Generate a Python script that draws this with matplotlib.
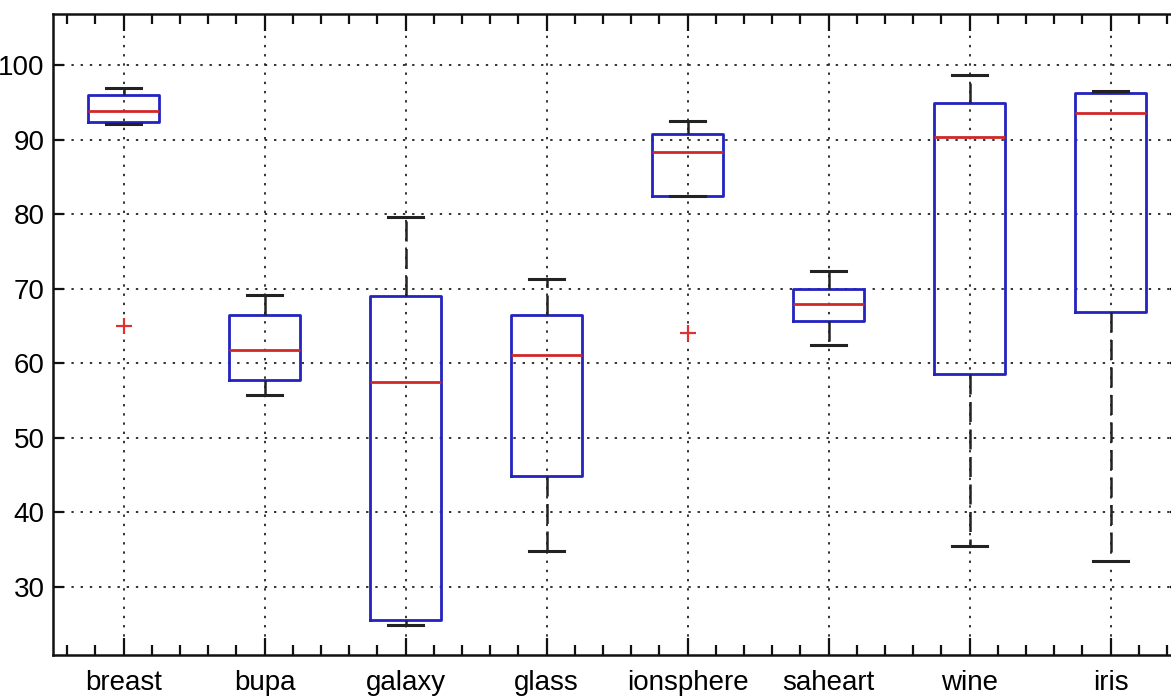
import matplotlib
matplotlib.use('Agg')
import matplotlib.pyplot as plt
from matplotlib.ticker import MultipleLocator

plt.rcParams['font.family'] = ['Liberation Sans', 'DejaVu Sans']

names = ['breast', 'bupa', 'galaxy', 'glass', 'ionsphere', 'saheart', 'wine', 'iris']
whis_hi = [96.9, 69.2, 79.6, 71.3, 92.5, 72.4, 98.6, 96.5]
q3 = [96.0, 66.4, 69.0, 66.5, 90.8, 70.0, 94.9, 96.3]
med = [93.8, 61.8, 57.5, 61.1, 88.3, 67.9, 90.3, 93.6]
q1 = [92.3, 57.7, 25.6, 44.8, 82.4, 65.6, 58.5, 66.9]
whis_lo = [92.1, 55.7, 24.9, 34.8, 82.4, 62.4, 35.5, 33.4]
outliers = [[65.0], [], [], [], [64.0], [], [], []]

stats = []
for i in range(len(names)):
    stats.append({'label': names[i], 'med': med[i], 'q1': q1[i], 'q3': q3[i],
                  'whislo': whis_lo[i], 'whishi': whis_hi[i], 'fliers': outliers[i]})

fig = plt.figure(figsize=(11.71, 6.99), dpi=100)
ax = fig.add_axes([0.0453, 0.0629, 0.9633, 0.917])

ax.bxp(stats, widths=0.5, capwidths=0.25,
       boxprops=dict(color='#2323c0', linewidth=2.0),
       medianprops=dict(color='#d02828', linewidth=2.0),
       whiskerprops=dict(color='#222222', linewidth=1.8, linestyle=(0, (8, 3))),
       capprops=dict(color='#222222', linewidth=2.2),
       flierprops=dict(marker='+', markeredgecolor='#e03030', markersize=11,
                       markeredgewidth=1.6, linestyle='none'))

ax.set_xlim(0.5, 8.5)
ax.set_ylim(20.84, 106.84)
ax.xaxis.set_minor_locator(MultipleLocator(0.2))
ax.set_yticks([30, 40, 50, 60, 70, 80, 90, 100])

ax.grid(True, which='major', color='#222222', linestyle=(0, (1.3, 3.8)), linewidth=1.3)
ax.set_axisbelow(True)

ax.tick_params(axis='both', which='both', direction='in', top=True, right=True,
               color='#111111', width=1.6, labelsize=20)
ax.tick_params(axis='x', which='major', length=12, pad=11)
ax.tick_params(axis='x', which='minor', length=7)
ax.tick_params(axis='y', which='major', length=8, pad=6)

for s in ax.spines.values():
    s.set_linewidth(1.8)
    s.set_color('#111111')

fig.savefig('out.png', dpi=100)
